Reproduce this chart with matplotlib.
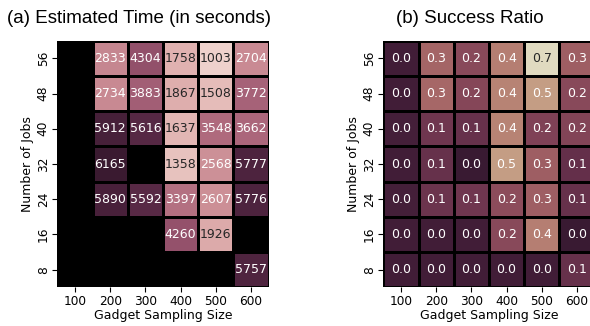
"""
Тепловые карты: оценка времени и доля успешных запусков
в зависимости от размера выборки гаджетов и числа задач.
"""

import matplotlib
matplotlib.use("Agg")
import matplotlib.pyplot as plt
import numpy as np
import seaborn as sns


# ------------------------------------------------------------
# Данные
# ------------------------------------------------------------

sampling_sizes = ["100", "200", "300", "400", "500", "600"]
num_jobs = ["56", "48", "40", "32", "24", "16", "8"]

nan = np.nan

est_time = np.array([
    [nan, 2833, 4304, 1758, 1003, 2704],
    [nan, 2734, 3883, 1867, 1508, 3772],
    [nan, 5912, 5616, 1637, 3548, 3662],
    [nan, 6165, nan, 1358, 2568, 5777],
    [nan, 5890, 5592, 3397, 2607, 5776],
    [nan, nan, nan, 4260, 1926, nan],
    [nan, nan, nan, nan, nan, 5757],
])

success_ratio = np.array([
    [0.02, 0.32, 0.22, 0.40, 0.70, 0.30],
    [0.02, 0.33, 0.21, 0.42, 0.50, 0.22],
    [0.03, 0.14, 0.12, 0.42, 0.19, 0.20],
    [0.02, 0.12, 0.00, 0.50, 0.30, 0.11],
    [0.03, 0.13, 0.14, 0.23, 0.30, 0.12],
    [0.02, 0.02, 0.02, 0.22, 0.40, 0.00],
    [0.02, 0.02, 0.02, 0.02, 0.02, 0.12],
])


# ------------------------------------------------------------
# Отрисовка одной карты
# ------------------------------------------------------------

def luminance(rgb):
    c = np.array(rgb[:3])
    c = np.where(c <= 0.03928, c / 12.92, ((c + 0.055) / 1.055) ** 2.4)
    return 0.2126 * c[0] + 0.7152 * c[1] + 0.0722 * c[2]


def draw_heatmap(ax, data, cmap, fmt):
    cmap = cmap.copy()
    cmap.set_bad("black")
    masked = np.ma.masked_invalid(data)
    vmin, vmax = np.nanmin(data), np.nanmax(data)
    mesh = ax.pcolormesh(masked, cmap=cmap, vmin=vmin, vmax=vmax,
                         edgecolors="black", linewidth=0.8)
    ax.set_facecolor("black")
    ax.set_xlim(0, data.shape[1])
    ax.set_ylim(data.shape[0], 0)

    for i in range(data.shape[0]):
        for j in range(data.shape[1]):
            v = data[i, j]
            if np.isnan(v):
                continue
            col = mesh.cmap(mesh.norm(v))
            tc = ".15" if luminance(col) > 0.408 else "w"
            ax.text(j + 0.5, i + 0.5, format(v, fmt), ha="center",
                    va="center", color=tc, fontsize=9)

    ax.set_xticks(np.arange(data.shape[1]) + 0.5)
    ax.set_xticklabels(sampling_sizes, fontsize=8.7)
    ax.set_yticks(np.arange(data.shape[0]) + 0.5)
    ax.set_yticklabels(num_jobs, fontsize=8.7, rotation=90, va="center")
    ax.set_xlabel("Gadget Sampling Size", fontsize=9, labelpad=1)
    ax.set_ylabel("Number of Jobs", fontsize=9, labelpad=2)
    ax.tick_params(length=3.5, width=0.8, pad=2)
    for s in ax.spines.values():
        s.set_visible(False)


fig = plt.figure(figsize=(5.9, 3.26), dpi=100)

ax1 = fig.add_axes([57.3 / 590, 38.7 / 326, 211.4 / 590, 246.6 / 326])
ax2 = fig.add_axes([383.3 / 590, 38.7 / 326, 211.4 / 590, 246.6 / 326])

draw_heatmap(ax1, est_time,
             sns.cubehelix_palette(start=0.45, rot=0.22, as_cmap=True), ".0f")
draw_heatmap(ax2, success_ratio,
             sns.cubehelix_palette(start=0.33, rot=0.42, as_cmap=True,
                                   reverse=True), ".1f")

fig.text(139 / 590, 1 - 23 / 326, "(a) Estimated Time (in seconds)",
         ha="center", va="baseline", fontsize=13.5, family="Liberation Sans")
fig.text(470 / 590, 1 - 23 / 326, "(b) Success Ratio",
         ha="center", va="baseline", fontsize=13.5, family="Liberation Sans")

fig.savefig("out.png", dpi=100)
